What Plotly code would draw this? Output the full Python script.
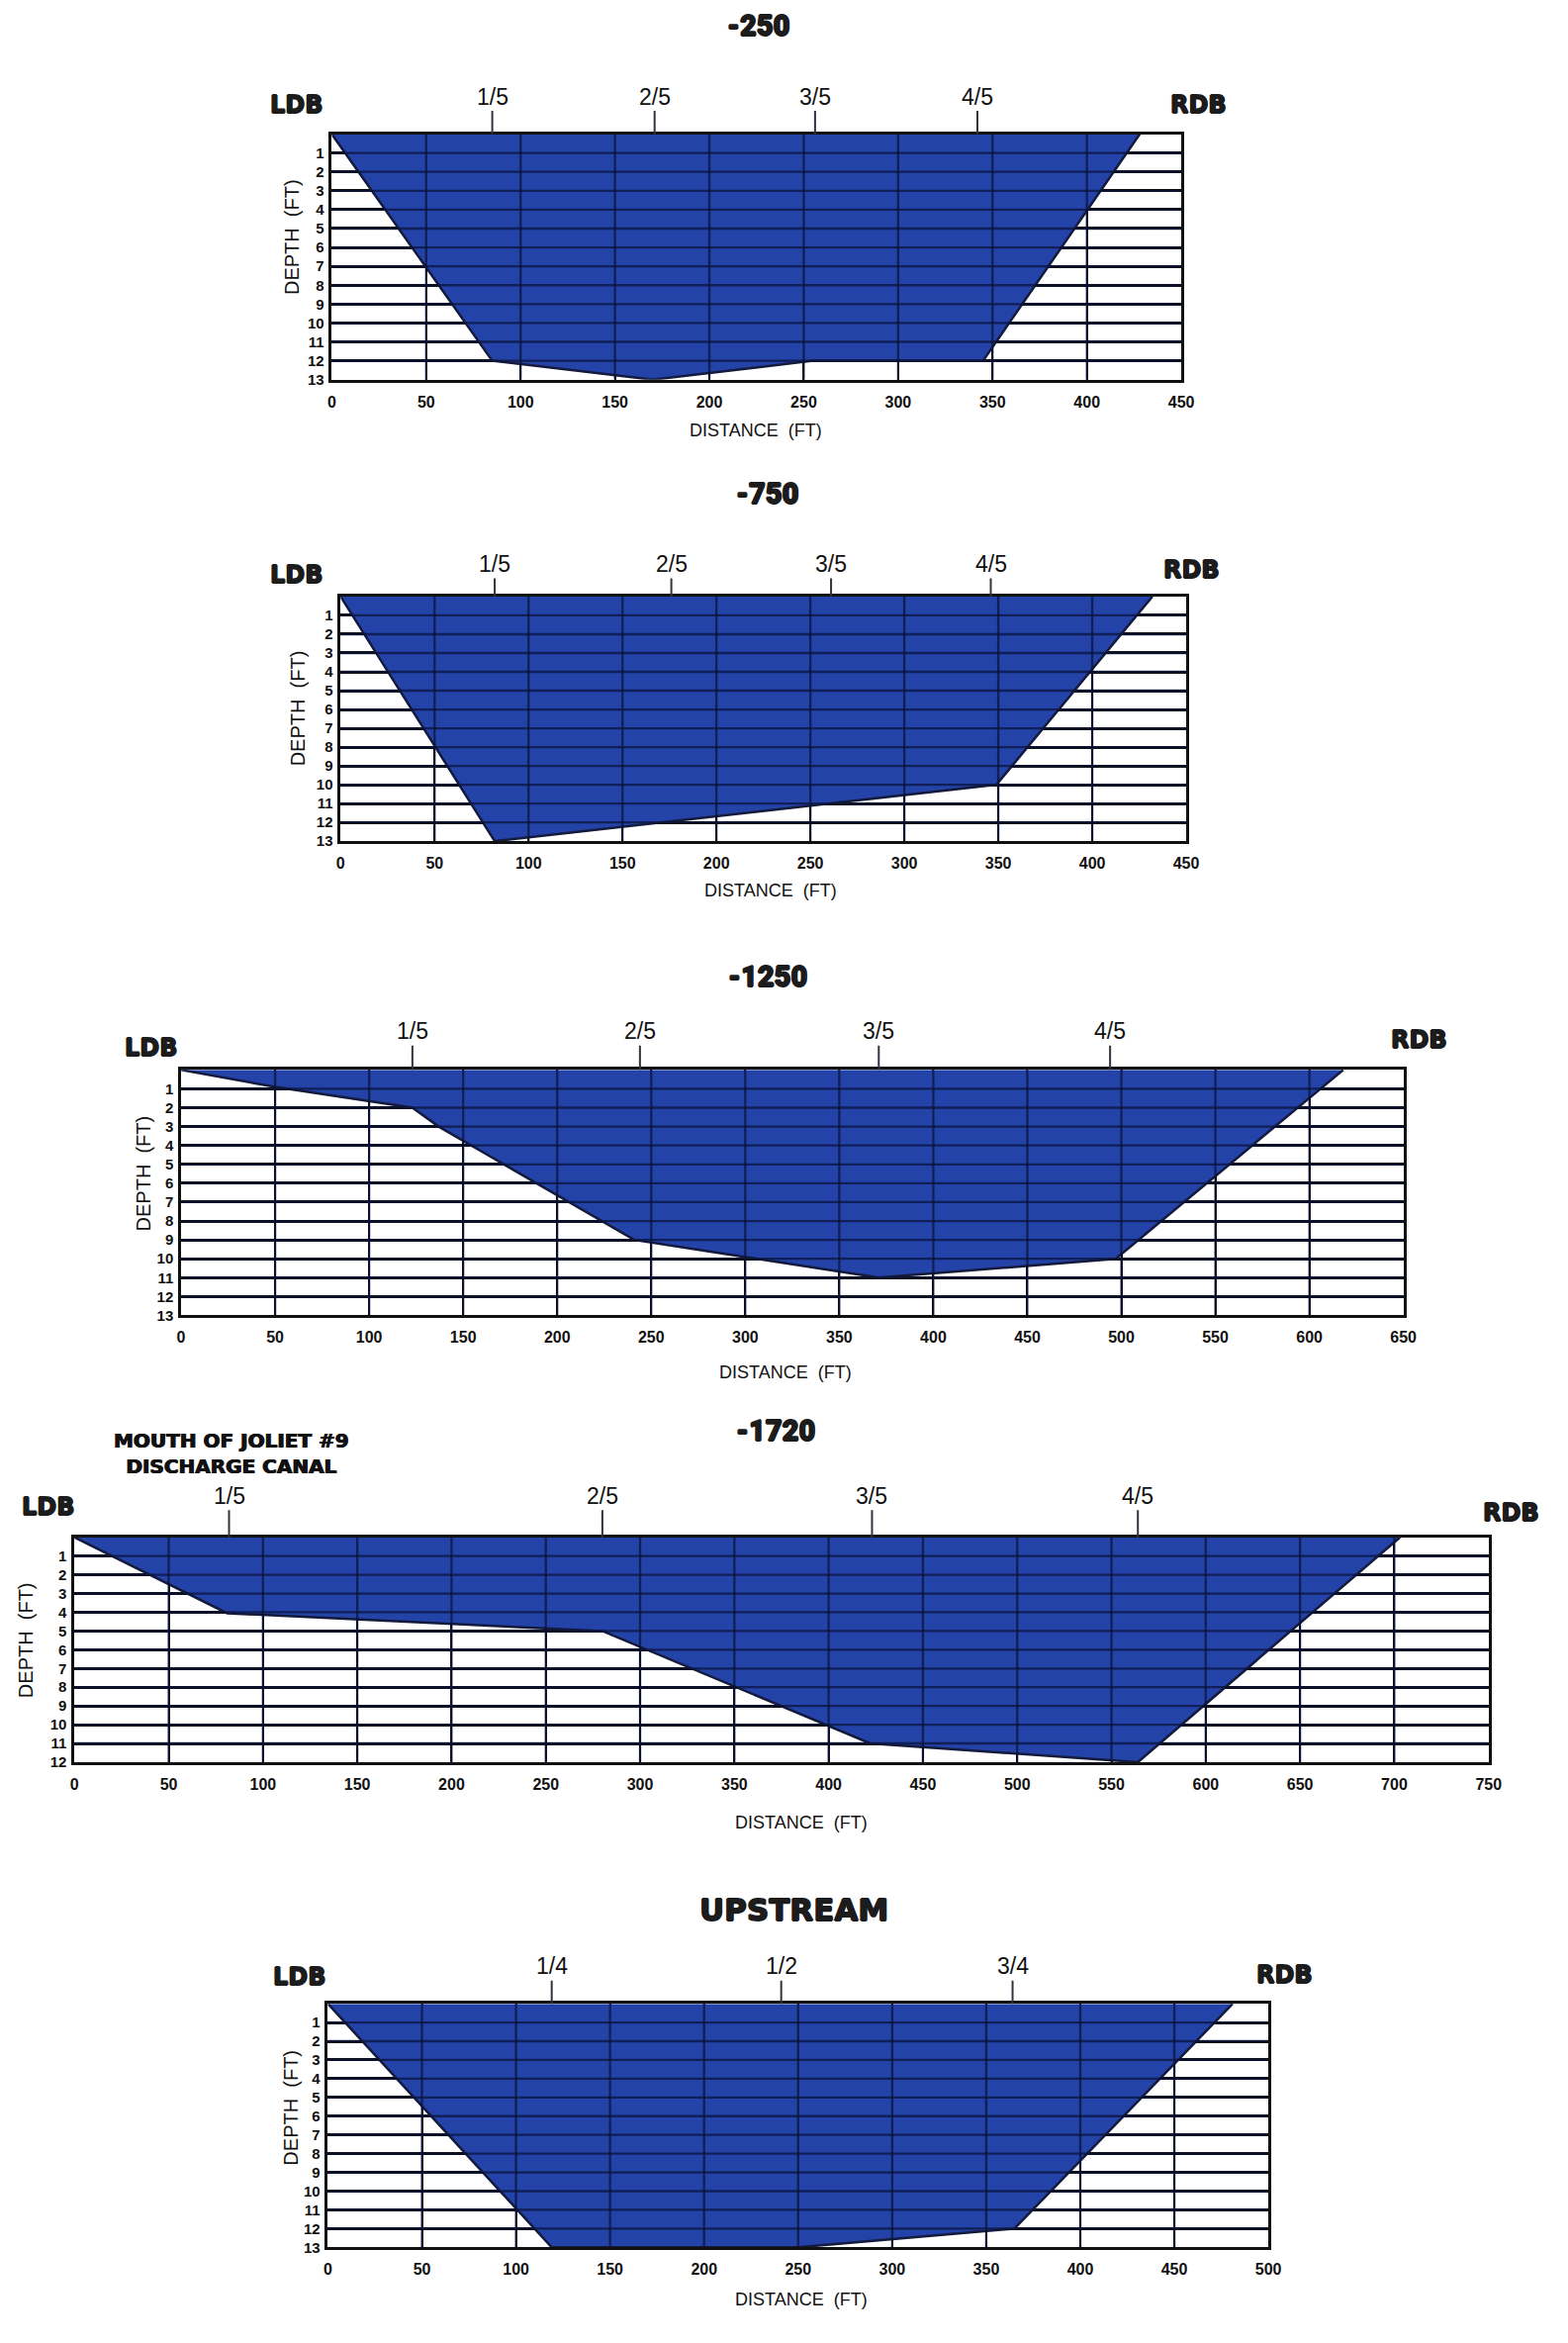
import plotly.graph_objects as go

W, H = 1585, 2368

# ---- channel cross-sections: distance from left bank (ft) vs depth (ft) ----
titles = ["-250", "-750", "-1250", "-1720", "UPSTREAM"]

dist_250 = [0, 85, 170, 255, 345, 428]
depth_250 = [0, 12, 13, 12, 12, 0]
frac_x_250 = [85, 171, 256, 342]

dist_750 = [0, 82, 349, 432]
depth_750 = [0, 13, 10, 0]
frac_x_750 = [82, 176, 261, 346]

dist_1250 = [0, 50, 123, 137, 241, 371, 497, 618]
depth_1250 = [0, 0.9, 2, 3, 9, 11, 10, 0]
frac_x_1250 = [123, 244, 371, 494]

dist_1720 = [0, 81, 280, 422, 564, 703]
depth_1720 = [0, 4.05, 5, 11, 12, 0]
frac_x_1720 = [82, 280, 423, 564]

dist_up = [0, 119, 250, 365, 481]
depth_up = [0, 13, 13, 12, 0]
frac_x_up = [119, 241, 364]

fifths = ["1/5", "2/5", "3/5", "4/5"]
quarters = ["1/4", "1/2", "3/4"]

x_max = [450, 450, 650, 750, 500]
depth_max = [13, 13, 13, 12, 13]
x_step = 50

canal_note = "MOUTH OF JOLIET #9<br>DISCHARGE CANAL"

profiles = [
    (dist_250, depth_250, frac_x_250, fifths),
    (dist_750, depth_750, frac_x_750, fifths),
    (dist_1250, depth_1250, frac_x_1250, fifths),
    (dist_1720, depth_1720, frac_x_1720, fifths),
    (dist_up, depth_up, frac_x_up, quarters),
]

# ---- page layout (pixels) ----
plot_box = [(335, 1203, 136, 385), (344, 1208, 605, 853), (181, 1430, 1085, 1334),
            (72, 1517, 1559, 1787), (331, 1292, 2032, 2279)]
title_pos = [(771, 26), (780, 501), (780, 990), (788, 1451), (807, 1937)]
ldb_pos = [(299, 106), (299, 583), (151, 1063), (45, 1528), (302, 2005)]
rdb_pos = [(1221, 106), (1214, 578), (1446, 1055), (1540, 1534), (1309, 2003)]
depth_lbl_pos = [(294, 240), (300, 718), (143, 1190), (23, 1663), (293, 2137)]
dist_lbl_pos = [(768, 436), (783, 903), (799, 1392), (815, 1848), (815, 2332)]
frac_offset = [38, 33, 39, 42, 38]
note_pos = (232, 1474)

BLUE = "#2343a8"
EDGE = "#141a3c"
INK = "#111111"
BLACK_DIGITS = "Roboto, Lato, sans-serif"
BLACK_CAPS = "DejaVu Sans, Liberation Sans, sans-serif"
PLAIN = "Liberation Sans, Arial, sans-serif"
THICK = "0.8px 0 0 #1c1c1c, -0.8px 0 0 #1c1c1c, 0 0.6px 0 #1c1c1c, 0 -0.6px 0 #1c1c1c"


def px(x):
    return x / W


def py(y):
    return 1 - y / H


def label(text, pos, font, **kw):
    return dict(text=text, x=px(pos[0]), y=py(pos[1]), xref="paper", yref="paper",
                xanchor="center", yanchor="middle", showarrow=False, font=font, **kw)


def heavy(size, numeric=False):
    if numeric:
        return dict(family=BLACK_DIGITS, size=size, color="#1c1c1c", weight=900, shadow=THICK)
    return dict(family=BLACK_CAPS, size=size, color="#1c1c1c", weight="bold", shadow=THICK)


fig = go.Figure()
annotations = []
axes = {}

for i, (dist, depth, frac_x, frac_lbl) in enumerate(profiles):
    n = i + 1
    xa = "x" if n == 1 else f"x{n}"
    ya = "y" if n == 1 else f"y{n}"
    xmax, dmax = x_max[i], depth_max[i]
    l, r, t, b = plot_box[i]

    # water-filled section
    fig.add_trace(go.Scatter(
        x=dist, y=depth, xaxis=xa, yaxis=ya, mode="lines",
        fill="toself", fillcolor=BLUE,
        line=dict(color=EDGE, width=2.5), hoverinfo="skip", showlegend=False))

    # grid seen through the water
    gx, gy = [], []
    for d in range(1, dmax):
        gx += [0, xmax, None]
        gy += [d, d, None]
    for xv in range(x_step, xmax, x_step):
        gx += [xv, xv, None]
        gy += [0, dmax, None]
    fig.add_trace(go.Scatter(
        x=gx, y=gy, xaxis=xa, yaxis=ya, mode="lines",
        line=dict(color="rgba(10,18,55,0.72)", width=2.3),
        hoverinfo="skip", showlegend=False))

    xkey = "xaxis" if n == 1 else f"xaxis{n}"
    ykey = "yaxis" if n == 1 else f"yaxis{n}"
    axes[xkey] = dict(
        domain=[px(l), px(r)], anchor=ya, range=[0, xmax],
        tickmode="array", tickvals=list(range(0, xmax + 1, x_step)),
        ticktext=[str(v) for v in range(0, xmax + 1, x_step)],
        showgrid=True, gridcolor=INK, gridwidth=1.8, zeroline=False,
        showline=True, linecolor=INK, linewidth=2.6, mirror=True,
        ticks="", ticklabelstandoff=6,
        tickfont=dict(family=PLAIN, size=16, color=INK, weight="bold"),
        fixedrange=True)
    axes[ykey] = dict(
        domain=[py(b), py(t)], anchor=xa, range=[dmax, 0],
        tickmode="array", tickvals=list(range(1, dmax + 1)),
        ticktext=[str(v) for v in range(1, dmax + 1)],
        showgrid=True, gridcolor=INK, gridwidth=2.7, zeroline=False,
        showline=True, linecolor=INK, linewidth=2.6, mirror=True,
        ticks="", ticklabelstandoff=2,
        tickfont=dict(family=PLAIN, size=15, color=INK, weight="bold"),
        fixedrange=True)

    # section title and bank labels
    numeric_title = titles[i].lstrip("-").isdigit()
    annotations.append(label(titles[i], title_pos[i],
                             heavy(29 if numeric_title else 31, numeric_title)))
    annotations.append(label("LDB", ldb_pos[i], heavy(24)))
    annotations.append(label("RDB", rdb_pos[i], heavy(24)))

    # axis titles
    annotations.append(label("DEPTH  (FT)", depth_lbl_pos[i],
                             dict(family=PLAIN, size=20, color=INK), textangle=-90))
    annotations.append(label("DISTANCE  (FT)", dist_lbl_pos[i],
                             dict(family=PLAIN, size=18, color=INK)))

    # sampling verticals across the water surface
    for fx, fl in zip(frac_x, frac_lbl):
        annotations.append(dict(
            text=fl, x=fx, y=0, xref=xa, yref=ya,
            showarrow=True, arrowhead=0, arrowwidth=2, arrowcolor="#3a3040",
            ax=0, ay=-frac_offset[i], standoff=0,
            font=dict(family=PLAIN, size=23, color=INK)))

annotations.append(label(canal_note, note_pos,
                         dict(family=BLACK_CAPS, size=20, color="#111111", weight="bold",
                              shadow="0.6px 0 0 #111, -0.6px 0 0 #111"),
                         align="center"))

fig.update_layout(
    width=W, height=H, autosize=False,
    margin=dict(l=0, r=0, t=0, b=0),
    paper_bgcolor="white", plot_bgcolor="white",
    showlegend=False, annotations=annotations, **axes)

fig.write_html("out.html")
